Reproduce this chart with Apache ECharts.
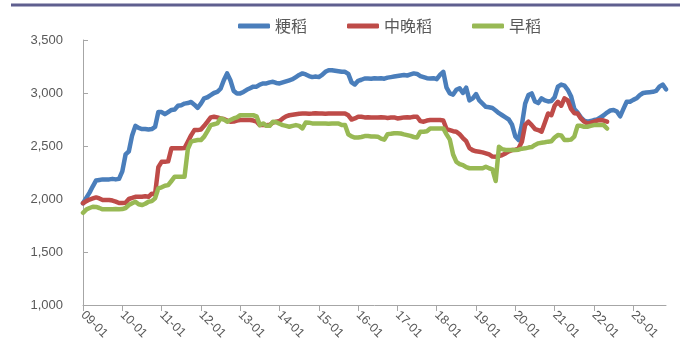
<!DOCTYPE html>
<html><head><meta charset="utf-8">
<script src="https://cdn.jsdelivr.net/npm/echarts@6/dist/echarts.min.js"></script>
<style>html,body{margin:0;padding:0;background:#fff}#c{width:685px;height:362px}</style>
</head><body><div id="c"></div>
<script>
// Monthly categories from 2009-01 to 2023-11
const startYear = 2009, monthCount = 179;
const months = [];
for (let i = 0; i < monthCount; i++) {
  const y = startYear + Math.floor(i / 12), m = i % 12 + 1;
  months.push(y + '-' + (m < 10 ? '0' + m : m));
}
const seriesNames = ['粳稻', '中晚稻', '早稻'];
const japonica = [1960,2010,2060,2120,2175,2180,2185,2185,2185,2190,2185,2190,
2260,2420,2450,2600,2690,2670,2660,2660,2655,2660,2680,2820,
2820,2800,2820,2840,2845,2880,2885,2900,2905,2915,2890,2860,
2900,2950,2960,2980,3000,3010,3040,3120,3185,3120,3020,2996,
2996,3010,3030,3045,3060,3060,3080,3090,3090,3100,3106,3095,
3090,3100,3110,3120,3130,3150,3170,3185,3175,3160,3150,3155,
3150,3170,3200,3215,3215,3210,3205,3200,3200,3180,3100,3080,
3115,3125,3137,3137,3135,3140,3137,3140,3135,3145,3150,3155,
3160,3165,3170,3165,3175,3185,3180,3160,3150,3140,3137,3140,
3130,3170,3200,3050,2996,2985,3030,3045,3000,3050,2930,2950,
2990,2930,2900,2870,2865,2858,2835,2810,2790,2770,2750,2700,
2590,2556,2700,2900,2980,2996,2920,2905,2950,2930,2920,2925,
2960,3060,3080,3070,3030,2970,2850,2815,2770,2740,2730,2735,
2745,2750,2770,2790,2815,2835,2840,2825,2780,2850,2917,2917,
2935,2950,2980,3000,3005,3008,3011,3020,3060,3080,3035];
const lateIndica = [1960,1980,1995,2005,2015,2005,1990,1990,1990,1985,1975,1962,
1962,1965,2000,2010,2021,2021,2021,2025,2021,2050,2045,2300,
2351,2351,2355,2478,2478,2478,2478,2480,2540,2600,2650,2650,
2655,2690,2729,2770,2776,2770,2760,2755,2740,2729,2730,2740,
2745,2745,2745,2745,2740,2730,2697,2700,2697,2700,2720,2730,
2735,2760,2780,2790,2795,2800,2805,2807,2807,2805,2807,2810,
2807,2807,2805,2807,2807,2807,2807,2807,2807,2790,2750,2760,
2776,2776,2770,2772,2770,2768,2770,2772,2770,2765,2768,2770,
2760,2765,2770,2772,2770,2776,2776,2735,2729,2740,2745,2745,
2745,2745,2740,2660,2650,2640,2635,2610,2575,2545,2480,2460,
2450,2446,2440,2431,2420,2400,2399,2405,2415,2430,2450,2462,
2465,2478,2540,2700,2729,2697,2660,2650,2635,2720,2807,2790,
2880,2917,2880,2950,2930,2850,2810,2807,2760,2730,2713,2720,
2729,2740,2745,2740,2729];
const earlyIndica = [1870,1900,1915,1927,1925,1915,1903,1903,1903,1903,1905,1903,
1905,1915,1943,1960,1974,1950,1943,1955,1974,1980,2006,2100,
2110,2125,2131,2170,2210,2210,2210,2210,2470,2541,2550,2556,
2556,2588,2640,2697,2705,2713,2760,2750,2729,2745,2760,2770,
2790,2790,2790,2790,2790,2780,2697,2713,2690,2690,2729,2725,
2710,2697,2690,2682,2690,2697,2690,2666,2722,2720,2713,2713,
2713,2713,2713,2710,2713,2713,2713,2697,2697,2610,2590,2580,
2580,2585,2594,2594,2590,2590,2588,2570,2560,2612,2615,2620,
2620,2618,2610,2603,2595,2585,2580,2635,2635,2640,2666,2666,
2666,2666,2666,2610,2560,2420,2350,2330,2320,2300,2290,2290,
2290,2290,2290,2305,2290,2280,2170,2493,2470,2462,2462,2462,
2462,2465,2475,2478,2485,2490,2510,2525,2530,2535,2541,2545,
2580,2603,2600,2556,2556,2560,2588,2690,2690,2682,2682,2690,
2697,2697,2697,2697,2665];
const yTicks = [1000, 3500, 500]; // min, max, interval
const colors = ['#4a7ebb', '#be4b48', '#98b954'];

const chart = echarts.init(document.getElementById('c'), null, {renderer: 'canvas'});
const yearTick = (i) => i % 12 === 0;
const mk = (name, data, color) => ({
  name, type: 'line', data, showSymbol: false, symbol: 'none', smooth: false,
  lineStyle: {color, width: 4.5, join: 'round', cap: 'round'}, itemStyle: {color},
  emphasis: {disabled: true}, connectNulls: false
});
chart.setOption({
  animation: false,
  textStyle: {fontFamily: 'Liberation Sans, Arial, sans-serif'},
  graphic: [{type: 'line', shape: {x1: 11, y1: 5, x2: 680, y2: 5},
    style: {stroke: '#5f5f8f', lineWidth: 3}}],
  legend: {
    top: 13, left: 233, itemGap: 40, itemWidth: 32, itemHeight: 5,
    icon: 'roundRect',
    textStyle: {color: '#595959', fontSize: 16, fontFamily: 'Noto Sans CJK SC'},
    data: seriesNames
  },
  grid: {left: 83, right: 19, top: 40, bottom: 57, containLabel: false},
  xAxis: {
    type: 'category', data: months, boundaryGap: false,
    axisLine: {lineStyle: {color: '#a6a6a6', width: 1}},
    axisTick: {show: true, interval: yearTick, length: 6, lineStyle: {color: '#a6a6a6'}},
    axisLabel: {interval: yearTick, rotate: -45, margin: 8, color: '#595959', fontSize: 12.5,
      formatter: (v) => v.slice(2, 4) + '-01'},
    splitLine: {show: false}
  },
  yAxis: {
    type: 'value', min: yTicks[0], max: yTicks[1], interval: yTicks[2],
    axisLine: {show: true, lineStyle: {color: '#a6a6a6', width: 1}},
    axisTick: {show: true, inside: true, length: 5, lineStyle: {color: '#a6a6a6'}},
    axisLabel: {color: '#595959', fontSize: 13, margin: 20,
      formatter: (v) => v.toLocaleString('en-US')},
    splitLine: {show: false}
  },
  series: [
    mk(seriesNames[0], japonica, colors[0]),
    mk(seriesNames[1], lateIndica, colors[1]),
    mk(seriesNames[2], earlyIndica, colors[2])
  ]
});
</script></body></html>
